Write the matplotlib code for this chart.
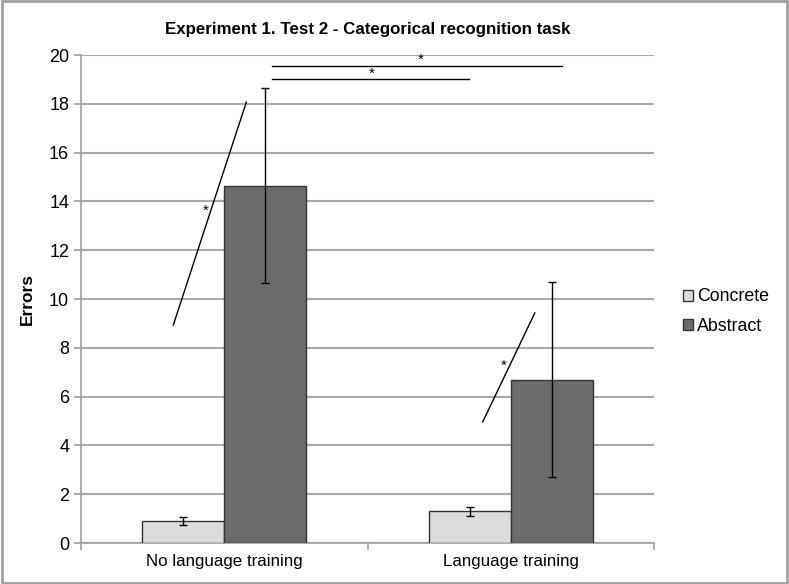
import numpy as np
import matplotlib.pyplot as plt
from matplotlib.patches import Rectangle

plt.rcParams['font.family'] = ['Liberation Sans', 'DejaVu Sans']

# data
categories = ['No language training', 'Language training']
series = ['Concrete', 'Abstract']
concrete = [0.9, 1.3]
concrete_err = [0.18, 0.18]
abstract = [14.65, 6.7]
abstract_err = [4.0, 4.0]

fig = plt.figure(figsize=(7.89, 5.84), dpi=100)
ax = fig.add_axes([0.1027, 0.0702, 0.7262, 0.8356])

x = np.arange(len(categories))
w = 0.286

ax.bar(x - w / 2, concrete, w, color='#dcdcdc', edgecolor='#333333', linewidth=1, label=series[0], zorder=3)
ax.bar(x + w / 2, abstract, w, color='#6b6b6b', edgecolor='#333333', linewidth=1, label=series[1], zorder=3)
ax.errorbar(x - w / 2, concrete, yerr=concrete_err, fmt='none', ecolor='black', elinewidth=1, capsize=3, zorder=4)
ax.errorbar(x + w / 2, abstract, yerr=abstract_err, fmt='none', ecolor='black', elinewidth=1, capsize=3, zorder=4)

# significance marks
ax.plot([-0.178, 0.077], [8.93, 18.07], color='black', lw=1, zorder=5)
ax.text(-0.066, 13.6, '*', ha='center', va='center', fontsize=11, zorder=5)
ax.plot([0.902, 1.084], [4.96, 9.43], color='black', lw=1, zorder=5)
ax.text(0.976, 7.25, '*', ha='center', va='center', fontsize=11, zorder=5)
ax.plot([0.165, 1.18], [19.55, 19.55], color='black', lw=1, zorder=5)
ax.text(0.685, 19.8, '*', ha='center', va='center', fontsize=11, zorder=5)
ax.plot([0.168, 0.855], [19.0, 19.0], color='black', lw=1, zorder=5)
ax.text(0.515, 19.25, '*', ha='center', va='center', fontsize=11, zorder=5)

ax.set_xlim(-0.5, 1.5)
ax.set_ylim(0, 20)
ax.set_yticks(range(0, 21, 2))
ax.set_xticks(x)
ax.set_xticklabels(categories, fontsize=12.2)
ax.set_xticks([-0.5, 0.5, 1.5], minor=True)
ax.tick_params(axis='x', which='major', length=0, pad=8)
ax.tick_params(axis='x', which='minor', length=5, color='#a0a0a0', width=1.2)
ax.tick_params(axis='y', labelsize=13, length=5, color='#a0a0a0', width=1.2)
ax.grid(axis='y', color='#a8a8a8', linewidth=1.5, zorder=0)
ax.set_axisbelow(True)
for s in ['top', 'right']:
    ax.spines[s].set_visible(False)
for s in ['left', 'bottom']:
    ax.spines[s].set_color('#a0a0a0')
    ax.spines[s].set_linewidth(1.2)

ax.set_ylabel('Errors', fontsize=12.5, fontweight='bold', labelpad=10)
ax.set_title('Experiment 1. Test 2 - Categorical recognition task', fontsize=12.2, fontweight='bold', pad=15)

ax.legend(loc='center left', bbox_to_anchor=(1.022, 0.474), frameon=False, fontsize=12.8,
          handlelength=0.6, handleheight=0.6, handletextpad=0.2, labelspacing=0.7)

fig.patches.append(Rectangle((0.002, 0.002), 0.996, 0.996, transform=fig.transFigure,
                             fill=False, edgecolor='#a0a0a0', linewidth=2))

fig.savefig('out.png', dpi=100)
